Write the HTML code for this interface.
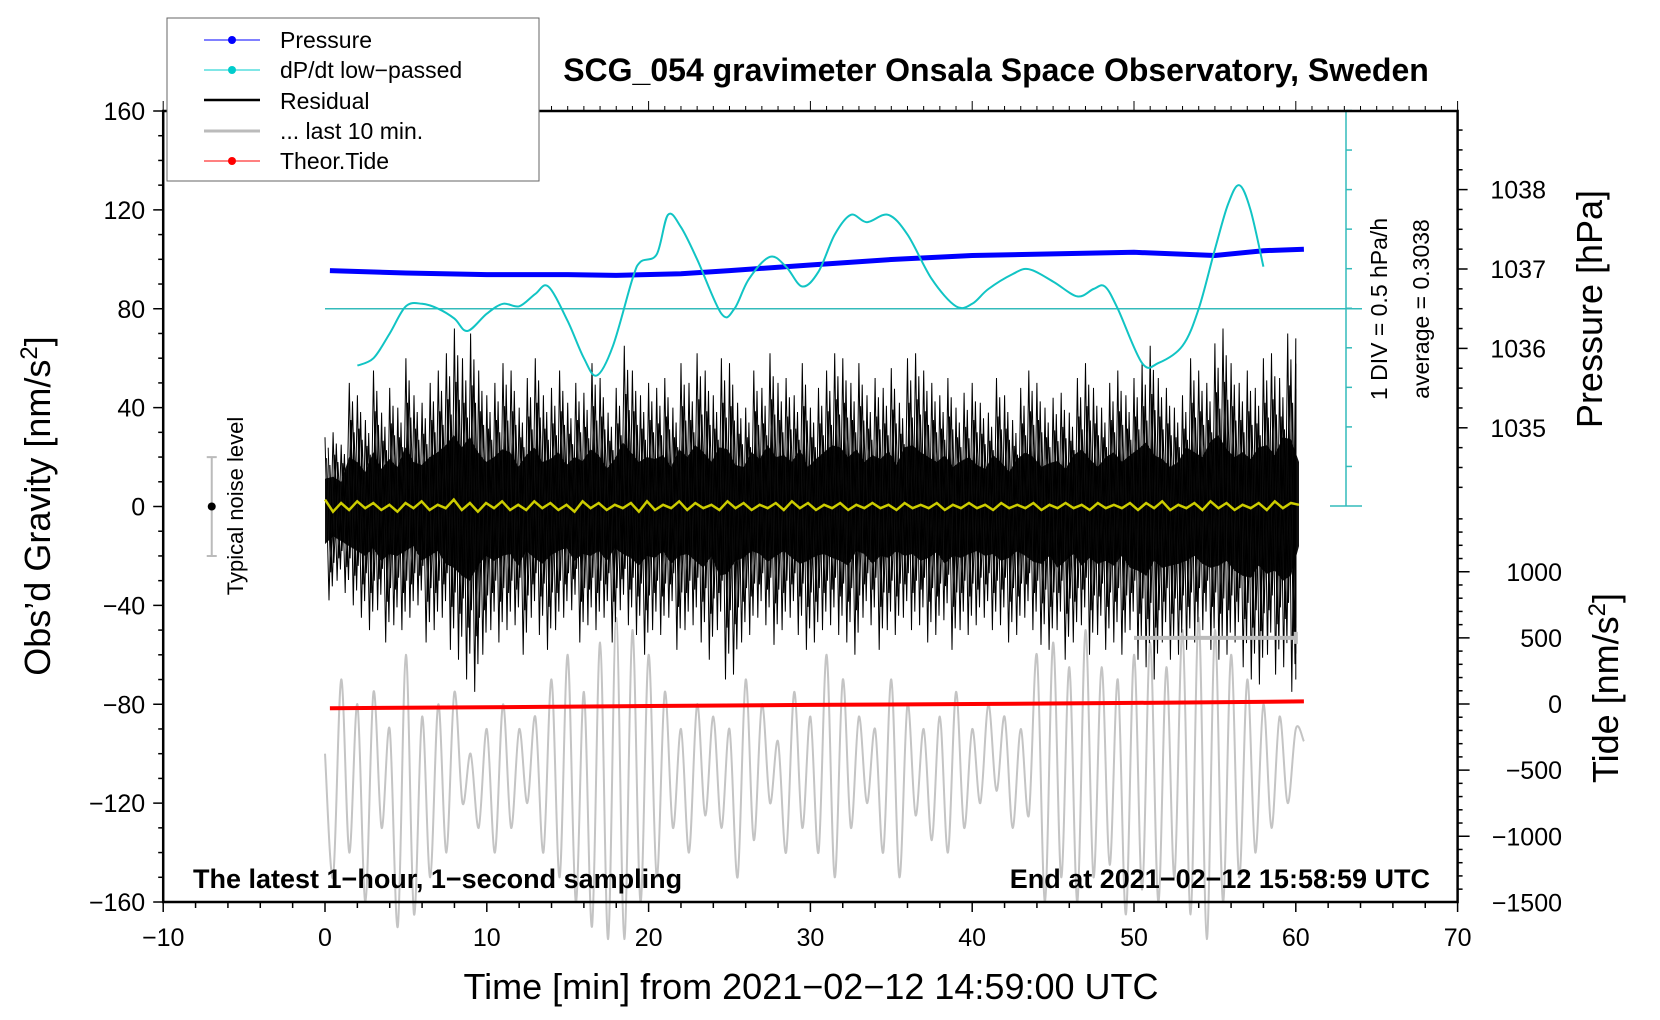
<!DOCTYPE html>
<html><head><meta charset="utf-8"><style>
html,body{margin:0;padding:0;background:#fff}
svg{display:block;font-family:"Liberation Sans",sans-serif}
</style></head><body>
<svg id="chart" width="1660" height="1020" viewBox="0 0 1660 1020" xmlns="http://www.w3.org/2000/svg">
<g id="marks"></g>
<g id="axes"></g>
<text x="996" y="81" font-size="32" font-weight="bold" text-anchor="middle">SCG_054 gravimeter Onsala Space Observatory, Sweden</text>
<text x="193" y="888" font-size="27" font-weight="bold">The latest 1−hour, 1−second sampling</text>
<text x="1430" y="888" font-size="27" font-weight="bold" text-anchor="end">End at 2021−02−12 15:58:59 UTC</text>
<text x="811" y="999" font-size="36" text-anchor="middle">Time [min] from 2021−02−12 14:59:00 UTC</text>
<text transform="translate(50,506) rotate(-90)" font-size="36" text-anchor="middle">Obs’d Gravity [nm/s<tspan font-size="24" dy="-13">2</tspan><tspan dy="13">]</tspan></text>
<text transform="translate(1602,309) rotate(-90)" font-size="36" text-anchor="middle">Pressure [hPa]</text>
<text transform="translate(1618,688) rotate(-90)" font-size="36" text-anchor="middle">Tide [nm/s<tspan font-size="24" dy="-13">2</tspan><tspan dy="13">]</tspan></text>
<text transform="translate(1387,309) rotate(-90)" font-size="23" text-anchor="middle">1 DIV = 0.5 hPa/h</text>
<text transform="translate(1429,309) rotate(-90)" font-size="23" text-anchor="middle">average = 0.3038</text>
<text transform="translate(243,506) rotate(-90)" font-size="22" text-anchor="middle">Typical noise level</text>
<g>
<rect x="167" y="18" width="372" height="163" fill="#fff" stroke="#666" stroke-width="1"/>
<g><line x1="204" y1="40" x2="260" y2="40" stroke="#00f" stroke-width="1"/><circle cx="232" cy="40" r="4" fill="#00f"/><text x="280" y="48" font-size="23">Pressure</text></g>
<g><line x1="204" y1="70" x2="260" y2="70" stroke="#0cc" stroke-width="1"/><circle cx="232" cy="70" r="4" fill="#0cc"/><text x="280" y="78" font-size="23">dP/dt low−passed</text></g>
<g><line x1="204" y1="100" x2="260" y2="100" stroke="#000" stroke-width="2.5"/><text x="280" y="109" font-size="23">Residual</text></g>
<g><line x1="204" y1="131" x2="260" y2="131" stroke="#bbb" stroke-width="3"/><text x="280" y="139" font-size="23">... last 10 min.</text></g>
<g><line x1="204" y1="161" x2="260" y2="161" stroke="#f00" stroke-width="1"/><circle cx="232" cy="161" r="4" fill="#f00"/><text x="280" y="169" font-size="23">Theor.Tide</text></g>
</g>
</svg>
<script>
const resUp=[28,30,25,50,45,35,55,38,48,40,60,45,42,50,55,62,72,60,70,55,45,
50,58,55,40,52,60,45,48,55,42,50,46,58,52,38,48,65,55,45,50,
48,52,40,58,50,62,55,45,60,58,42,40,55,48,62,50,52,45,58,40,
48,55,62,60,50,58,45,52,48,56,42,60,62,55,50,45,52,40,46,50,
42,38,52,45,35,48,55,50,40,44,46,38,52,58,48,40,50,55,45,52,
58,65,52,48,40,45,60,55,50,66,72,58,50,55,48,60,62,52,70,68,45];
const resLo=[-38,-30,-35,-40,-45,-50,-42,-55,-48,-50,-45,-40,-55,-50,-45,-58,-62,-70,-75,-60,-50,
-55,-50,-48,-60,-45,-52,-58,-50,-45,-42,-55,-48,-50,-45,-55,-42,-48,-52,-60,-50,
-52,-45,-58,-50,-48,-55,-62,-50,-70,-68,-55,-52,-45,-48,-56,-50,-45,-52,-58,-55,
-50,-48,-52,-55,-60,-45,-48,-58,-50,-52,-45,-50,-48,-55,-52,-46,-58,-50,-52,-48,
-45,-50,-48,-55,-52,-45,-50,-56,-58,-50,-62,-55,-48,-60,-52,-58,-55,-60,-50,-62,
-65,-70,-55,-62,-60,-58,-55,-50,-58,-62,-60,-55,-65,-70,-72,-60,-68,-65,-75,-70,-40];
const grayVals=[-100,-150,-70,-140,-80,-160,-75,-130,-90,-170,-60,-165,-85,-150,-80,-140,-75,-120,-100,-130,-90,
-140,-80,-130,-90,-120,-85,-140,-70,-150,-60,-160,-75,-170,-55,-175,-45,-175,-50,-160,-60,
-150,-75,-130,-90,-140,-80,-125,-85,-130,-90,-150,-70,-135,-80,-120,-95,-140,-75,-130,-85,
-140,-60,-150,-70,-130,-85,-120,-90,-140,-70,-150,-80,-125,-90,-135,-85,-140,-75,-130,-90,
-120,-80,-115,-85,-130,-90,-125,-60,-160,-55,-150,-65,-160,-50,-150,-65,-145,-70,-165,-60,
-155,-55,-160,-65,-150,-50,-165,-45,-175,-50,-160,-60,-150,-70,-140,-80,-130,-85,-120,-90,-95];
const yellowVals=[4,-3,2,-2,3,-1,2,-2,1,-3,2,-1,3,-2,1,-1,4,-2,2,-3,2,
-1,3,-2,1,-2,3,-1,2,-2,1,-3,3,-1,2,-2,1,-1,2,-3,3,
-2,1,-1,3,-2,2,-1,1,-2,3,-1,2,-2,1,-1,2,-2,3,-1,2,
-2,1,-1,2,-2,1,-1,2,-1,1,-2,2,-1,1,-1,2,-2,1,-1,2,
-1,1,-2,2,-1,1,-1,2,-2,1,-1,2,-1,1,-2,2,-1,1,-1,2,
-2,2,-1,3,-2,1,-1,2,-2,3,-1,2,-2,1,-1,2,-2,3,-1,2,1];
const sampleStep=0.5;
const pressTimes=[0.3,5,10,15,18,22,25,30,35,40,45,50,55,58,60.5];
const pressVals=[1036.98,1036.95,1036.93,1036.93,1036.92,1036.94,1036.98,1037.05,1037.12,1037.17,1037.19,1037.21,1037.17,1037.23,1037.25];
const cyanTimes=[2,3,4,5,6,7,8,8.8,10,11,12,13,13.8,15,16,16.8,17.8,19,19.5,20.5,21.2,22,23,24.5,25.3,26.2,27.5,28.5,29.5,30.5,31.5,32.5,33.5,34.8,36,37.5,39,40,41,42.5,43.5,45,46.5,47.5,48.2,49,50.5,51.5,53,54,55,55.8,56.5,57.2,58];
const cyanG=[57,60,70,81,82,80,76,71,78,82,81,86,89,75,60,53,65,92,99,102,118,113,100,78,80,92,101,97,89,95,110,118,115,118,110,92,81,82,88,94,96,91,85,88,89,80,58,58,65,80,104,122,130,120,97];
const cyanAvg=0.3038;
const cyanDiv=0.5;
const tideTimes=[0.3,10,20,30,40,50,60.5];
const tideVals=[-32,-25,-15,-7,0,8,20];
const xTicks=[-10,0,10,20,30,40,50,60,70];
const yTicks=[160,120,80,40,0,-40,-80,-120,-160];
const pTicks=[1035,1036,1037,1038];
const tTicks=[1000,500,0,-500,-1000,-1500];

const NS="http://www.w3.org/2000/svg";
const X=t=>325+t*16.18;
const Y=g=>111+(160-g)*2.4719;
const P=p=>269-(p-1037)*79.4;
const T=v=>704-v*0.13225;
const cyanToG=v=>80+(v-cyanAvg)/cyanDiv*16;
const marks=document.getElementById('marks');
const axes=document.getElementById('axes');
function mk(tag,attrs,parent){const e=document.createElementNS(NS,tag);for(const k in attrs)e.setAttribute(k,attrs[k]);parent.appendChild(e);return e;}
function smooth(pts){let d='M'+pts[0][0].toFixed(1)+','+pts[0][1].toFixed(1);for(let i=0;i<pts.length-1;i++){const p0=pts[Math.max(0,i-1)],p1=pts[i],p2=pts[i+1],p3=pts[Math.min(pts.length-1,i+2)];const c1=[p1[0]+(p2[0]-p0[0])/6,p1[1]+(p2[1]-p0[1])/6],c2=[p2[0]-(p3[0]-p1[0])/6,p2[1]-(p3[1]-p1[1])/6];d+='C'+c1[0].toFixed(1)+','+c1[1].toFixed(1)+' '+c2[0].toFixed(1)+','+c2[1].toFixed(1)+' '+p2[0].toFixed(1)+','+p2[1].toFixed(1);}return d;}

let e=mk('path',{d:smooth(grayVals.map((v,i)=>[X(i*sampleStep),Y(v)])),fill:'none',stroke:'#c4c4c4','stroke-width':2},marks);



let d='';resUp.forEach((v,i)=>{d+=(i?'L':'M')+X(i*sampleStep*0.995).toFixed(1)+','+Y(v*0.4).toFixed(1);});
for(let i=resLo.length-1;i>=0;i--)d+='L'+X(i*sampleStep*0.995).toFixed(1)+','+Y(resLo[i]*0.4).toFixed(1);
e=mk('path',{d:d+'Z',fill:'#111'},marks);


[[0,1],[0.1,0.7],[0.2,0.85],[0.3,0.6]].forEach((o,k)=>{
d='';resUp.forEach((v,i)=>{const t=Math.min(60,i*sampleStep+o[0]);const t2=Math.min(60,t+0.25);d+=(i?'L':'M')+X(t).toFixed(1)+','+Y(v*o[1]).toFixed(1)+'L'+X(t2).toFixed(1)+','+Y(resLo[i]*o[1]).toFixed(1);});
e=mk('path',{d:d,fill:'none',stroke:'#000','stroke-width':1},marks);


});

d='';yellowVals.forEach((v,i)=>{d+=(i?'L':'M')+X(i*sampleStep*0.995).toFixed(1)+','+Y(v*0.7).toFixed(1);});
e=mk('path',{d:d,fill:'none',stroke:'#cccc00','stroke-width':2.5},marks);



d='';pressVals.forEach((v,i)=>{d+=(i?'L':'M')+X(pressTimes[i]).toFixed(1)+','+P(v).toFixed(1);});
e=mk('path',{d:d,fill:'none',stroke:'#00f','stroke-width':5},marks);



e=mk('line',{x1:X(0),y1:Y(80),x2:1362,y2:Y(80),stroke:'#33bbbb','stroke-width':1.5},marks);


e=mk('path',{d:smooth(cyanG.map((g,i)=>{const v=cyanAvg+(g-80)/16*cyanDiv;return [X(cyanTimes[i]),Y(cyanToG(v))];})),fill:'none',stroke:'#11c4c4','stroke-width':2,'stroke-linejoin':'round'},marks);


e=mk('line',{x1:1346,y1:111,x2:1346,y2:506,stroke:'#33bbbb','stroke-width':1.5},marks);


for(let k=0;k<=10;k++){const yy=506-k*39.55;const w=k==0?16:6;e=mk('line',{x1:1346,y1:yy,x2:1346+w,y2:yy,stroke:'#33bbbb','stroke-width':1.5},marks);if(k==0){e.setAttribute('x1',1330);}

}

d='';tideVals.forEach((v,i)=>{d+=(i?'L':'M')+X(tideTimes[i]).toFixed(1)+','+T(v).toFixed(1);});
e=mk('path',{d:d,fill:'none',stroke:'#f00','stroke-width':4},marks);



e=mk('path',{d:'M'+X(50)+','+T(500)+'H'+X(60)+'M'+X(60)+','+(T(500)-6)+'V'+(T(500)+6),stroke:'#bbb','stroke-width':4,fill:'none'},marks);


e=mk('path',{d:'M'+(X(-7)-5)+','+Y(20)+'H'+(X(-7)+5)+'M'+X(-7)+','+Y(20)+'V'+Y(-20)+'M'+(X(-7)-5)+','+Y(-20)+'H'+(X(-7)+5),stroke:'#bbb','stroke-width':2,fill:'none'},marks);


e=mk('circle',{cx:X(-7),cy:Y(0),r:4,fill:'#000'},marks);



e=mk('rect',{x:X(-10),y:111,width:X(70)-X(-10),height:791,fill:'none',stroke:'#000','stroke-width':2.5},axes);


for(let t=-10;t<=70;t+=2){const maj=t%10==0;mk('line',{x1:X(t),y1:902,x2:X(t),y2:902+(maj?10:6),stroke:'#000','stroke-width':1.5},axes);}
for(let t=-10;t<=70;t+=1){const maj=t%10==0;mk('line',{x1:X(t),y1:111,x2:X(t),y2:111-(maj?10:5),stroke:'#000','stroke-width':1},axes);}
xTicks.forEach(t=>{e=mk('text',{x:X(t),y:946,'font-size':25,'text-anchor':'middle'},axes);e.textContent=(t<0?'−':'')+Math.abs(t);

});
for(let g=-160;g<=160;g+=10){const maj=g%40==0;mk('line',{x1:X(-10),y1:Y(g),x2:X(-10)-(maj?10:5),y2:Y(g),stroke:'#000','stroke-width':1.5},axes);}
yTicks.forEach(g=>{e=mk('text',{x:X(-10)-18,y:Y(g)+9,'font-size':25,'text-anchor':'end'},axes);e.textContent=(g<0?'−':'')+Math.abs(g);

});
const xr=X(70);
for(let p=1034.25;p<=1039.01;p+=0.25){const yy=P(p);if(yy<111||yy>506)continue;const maj=Math.abs(p-Math.round(p))<0.01;mk('line',{x1:xr,y1:yy,x2:xr+(maj?10:5),y2:yy,stroke:'#000','stroke-width':1.5},axes);}
pTicks.forEach(p=>{e=mk('text',{x:1546,y:P(p)+9,'font-size':25,'text-anchor':'end'},axes);e.textContent=p;

});
for(let v=-1500;v<=1500;v+=100){const yy=T(v);if(yy<506||yy>902)continue;const maj=v%500==0;mk('line',{x1:xr,y1:yy,x2:xr+(maj?12:5),y2:yy,stroke:'#000','stroke-width':1.5},axes);}
tTicks.forEach(v=>{e=mk('text',{x:1562,y:T(v)+9,'font-size':25,'text-anchor':'end'},axes);e.textContent=(v<0?'−':'')+Math.abs(v);

});
</script>
</body></html>
